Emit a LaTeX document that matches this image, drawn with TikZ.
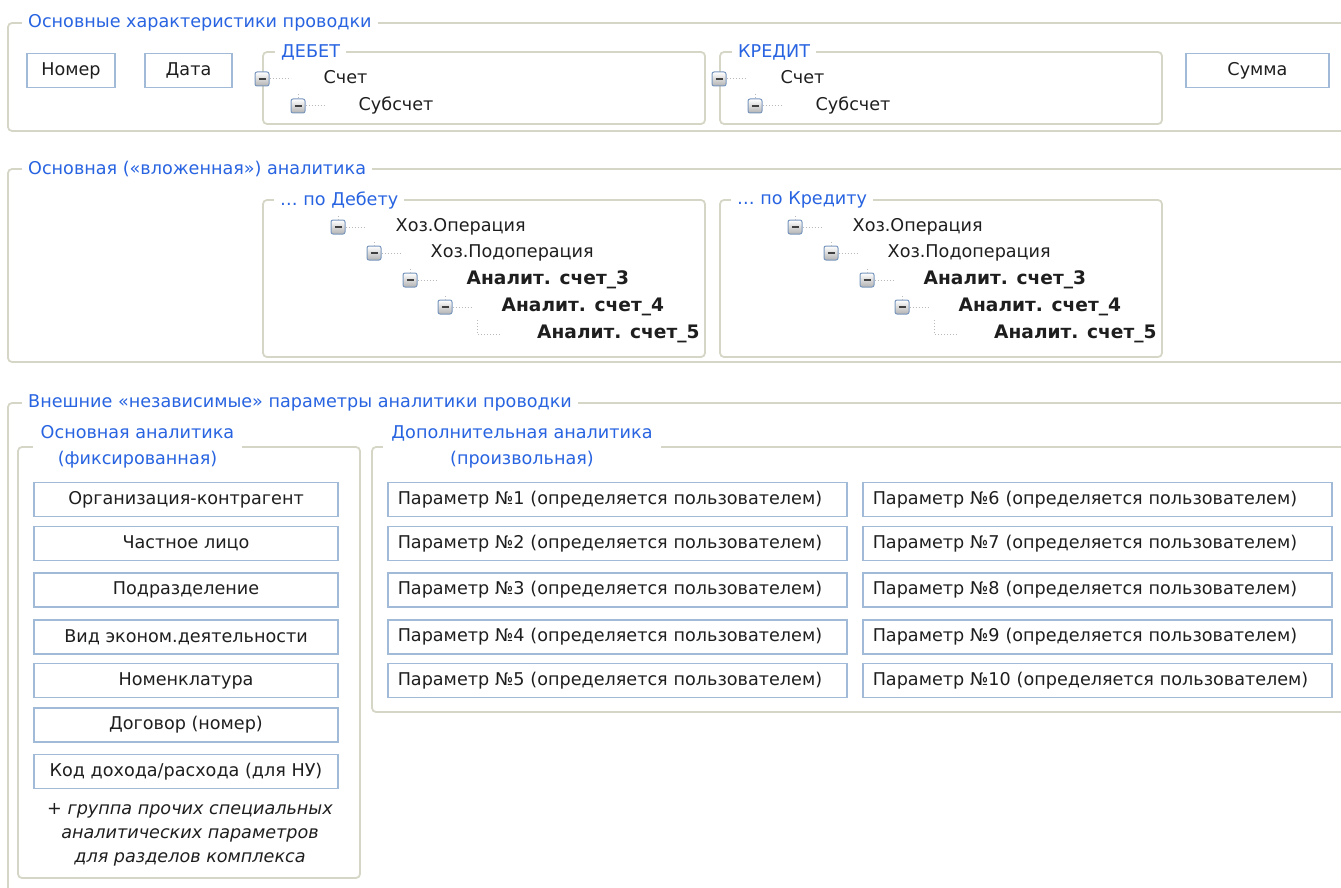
\documentclass[tikz,border=0pt]{standalone}
\usepackage{fontspec}
\setmainfont{DejaVu Sans}
\usetikzlibrary{positioning}
\definecolor{framec}{RGB}{214,214,198}
\definecolor{boxc}{RGB}{160,186,216}
\definecolor{ttlc}{RGB}{40,100,225}
\definecolor{txtc}{RGB}{30,30,30}
\definecolor{icoc}{RGB}{120,150,190}
\begin{document}
\begin{tikzpicture}[x=1pt,y=-1pt,
  every node/.style={font=\fontsize{17.6}{26}\selectfont,text=txtc},
  frame/.style={draw=framec,line width=1.8pt,rounded corners=4pt},
  ttl/.style={text=ttlc,fill=white,inner xsep=6pt,inner ysep=3pt,anchor=west},
  ttl2/.style={text=ttlc,fill=white,inner xsep=8pt,inner ysep=2pt,align=center},
  box/.style={draw=boxc,line width=1.5pt,minimum height=34pt,inner sep=0pt},
  par/.style={box,anchor=west,inner xsep=10pt,align=left},
  minus/.style={draw=icoc,line width=1pt,minimum size=14pt,inner sep=0pt,rounded corners=2pt,
    top color=white,bottom color=black!30,
    path picture={\draw[line width=2pt,black!75] ([xshift=-3.5pt]path picture bounding box.center)
      -- ([xshift=3.5pt]path picture bounding box.center);}},
  leaf/.style={inner sep=0pt,text height=13pt,text depth=4pt},
  bold/.style={font=\fontsize{18.6}{22}\selectfont\bfseries},
  stub/.style={draw=gray!55,line width=1pt,dash pattern=on 1pt off 2pt}]
  \useasboundingbox (0,0) rectangle (1341,888);
  \clip (0,0) rectangle (1341,888);

  % main characteristics
  \draw[frame] (8,23) rectangle (1400,131);
  \node[ttl] (g1) at (22,23) {Основные характеристики проводки};
  \node[box,minimum width=88pt] (num) at (71,70.5) {Номер};
  \node[box,minimum width=87pt] (date) at (188.5,70.5) {Дата};
  \node[box,minimum width=143pt] (sum) at (1257.5,70.5) {Сумма};

  % nested analytics
  \draw[frame] (8,169) rectangle (1400,362);
  \node[ttl] (g2) at (22,169) {Основная («вложенная») аналитика};

  \foreach \p/\dx/\ta/\tb in {d/0/ДЕБЕТ/Дебету,k/457/КРЕДИТ/Кредиту} {
    \begin{scope}[xshift=\dx pt]
      \draw[frame] (263,52) rectangle (705,124);
      \node[ttl] (\p acc) at (275,52) {\ta};
      \node[minus] (\p s1) at (262,79) {};
      \node[leaf] (\p s1t) [right=54pt of \p s1] {Счет};
      \node[minus] (\p s2) at (298,106) {};
      \node[leaf] (\p s2t) [right=53pt of \p s2] {Субсчет};
      \draw[stub,shorten >=33pt] (\p s1) -- (\p s1t);
      \draw[stub,shorten >=33pt] (\p s2) -- (\p s2t);
      \draw[stub] (\p s2.north) -- ++(0,-5);

      \draw[frame] (263,200) rectangle (705,357);
      \node[ttl] (\p an) at (274,200) {… по \tb};
      \node[minus] (\p 1) at (338,227) {};
      \node[leaf] (\p 1t) [right=50pt of \p 1] {Хоз.Операция};
      \node[minus] (\p 2) at (374,253) {};
      \node[leaf] (\p 2t) [right=49pt of \p 2] {Хоз.Подоперация};
      \node[minus] (\p 3) at (410,280) {};
      \node[leaf,bold] (\p 3t) [right=49pt of \p 3] {Аналит. счет\_3};
      \node[minus] (\p 4) at (445,307) {};
      \node[leaf,bold] (\p 4t) [right=49pt of \p 4] {Аналит. счет\_4};
      \coordinate (\p 5) at (477,320);
      \node[leaf,bold,anchor=west] (\p 5t) at (537,334) {Аналит. счет\_5};
      \foreach \n in {1,2,3,4} {
        \draw[stub,shorten >=30pt] (\p\n) -- (\p\n t);
        \draw[stub] (\p\n.north) -- ++(0,-5);
      }
      \draw[stub,shorten >=37pt] (\p 5) |- (\p 5t);
    \end{scope}
  }

  % external parameters
  \draw[frame] (8,403) rectangle (1400,900);
  \node[ttl] (g3) at (22,403) {Внешние «независимые» параметры аналитики проводки};

  \draw[frame] (18,447) rectangle (360,878);
  \node[ttl2] (fix) at (137.5,447) {Основная аналитика\\(фиксированная)};
  \node[box,minimum width=304pt] (org) at (186,499.5) {Организация-контрагент};
  \node[box,minimum width=304pt] (pers) at (186,543.5) {Частное лицо};
  \node[box,minimum width=304pt] (dept) at (186,590) {Подразделение};
  \node[box,minimum width=304pt] (act) at (186,637) {Вид эконом.деятельности};
  \node[box,minimum width=304pt] (nom) at (186,680.5) {Номенклатура};
  \node[box,minimum width=304pt] (contr) at (186,725) {Договор (номер)};
  \node[box,minimum width=304pt] (code) at (186,771.5) {Код дохода/расхода (для НУ)};
  \node[align=center,font=\fontsize{17.6}{24}\selectfont\itshape] (note) at (190,835)
    {+ группа прочих специальных\\аналитических параметров\\для разделов комплекса};

  \draw[frame] (372,447) rectangle (1400,712);
  \node[ttl2] (extra) at (522,447) {Дополнительная аналитика\\(произвольная)};
  \foreach \i/\j/\y in {1/6/499.5,2/7/543.5,3/8/590,4/9/637,5/10/680.5} {
    \node[par,text width=439pt] (p\i) at (387,\y) {Параметр №\i\ (определяется пользователем)};
    \node[par,text width=449pt] (p\j) at (862,\y) {Параметр №\j\ (определяется пользователем)};
  }
\end{tikzpicture}
\end{document}
